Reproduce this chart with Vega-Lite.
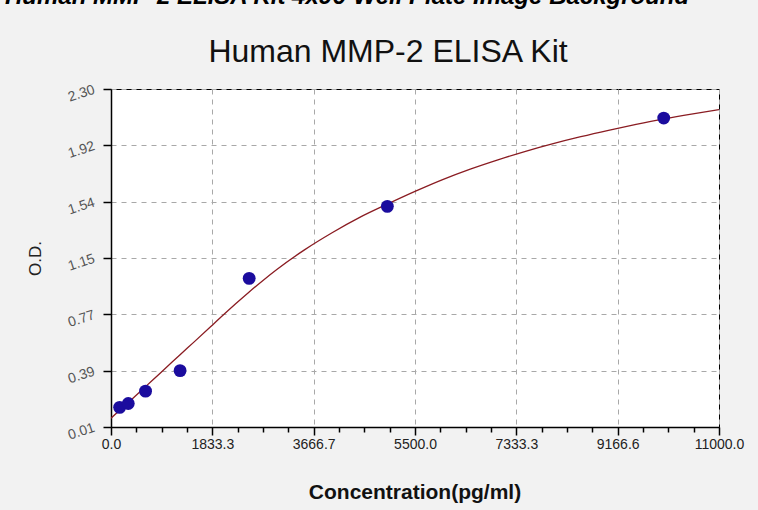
{
  "$schema": "https://vega.github.io/schema/vega-lite/v6.json",
  "autosize": {"type": "none"},
  "width": 608,
  "height": 338,
  "padding": {"left": 111, "top": 89, "right": 39, "bottom": 83},
  "background": "#f2f2f2",
  "config": {
    "font": "Liberation Sans",
    "view": {"fill": "#ffffff", "stroke": "#000000", "strokeWidth": 1}
  },
  "title": {
    "text": "Human MMP-2 ELISA Kit 4x96-Well Plate Image Background",
    "anchor": "start",
    "frame": "group",
    "dx": -106,
    "dy": -7,
    "offset": 0,
    "baseline": "alphabetic",
    "font": "Liberation Sans",
    "fontSize": 24,
    "fontStyle": "italic",
    "fontWeight": "bold",
    "color": "#000000"
  },
  "datasets": {
    "points": [
      {"conc": 156.25, "od": 0.143},
      {"conc": 312.5, "od": 0.169},
      {"conc": 625, "od": 0.253},
      {"conc": 1250, "od": 0.392},
      {"conc": 2500, "od": 1.017},
      {"conc": 5000, "od": 1.505},
      {"conc": 10000, "od": 2.103}
    ],
    "curve": [
      {"conc": 0, "od": 0.07},
      {"conc": 250, "od": 0.155},
      {"conc": 500, "od": 0.24},
      {"conc": 750, "od": 0.327},
      {"conc": 1000, "od": 0.413},
      {"conc": 1250, "od": 0.5},
      {"conc": 1500, "od": 0.585},
      {"conc": 1833, "od": 0.7},
      {"conc": 2000, "od": 0.758},
      {"conc": 2250, "od": 0.843},
      {"conc": 2500, "od": 0.925},
      {"conc": 2750, "od": 1.003},
      {"conc": 3000, "od": 1.077},
      {"conc": 3500, "od": 1.21},
      {"conc": 4000, "od": 1.326},
      {"conc": 4500, "od": 1.43},
      {"conc": 5000, "od": 1.52},
      {"conc": 5500, "od": 1.606},
      {"conc": 6000, "od": 1.686},
      {"conc": 6500, "od": 1.757},
      {"conc": 7000, "od": 1.82},
      {"conc": 7500, "od": 1.878},
      {"conc": 8000, "od": 1.93},
      {"conc": 8500, "od": 1.977},
      {"conc": 9000, "od": 2.02},
      {"conc": 9500, "od": 2.06},
      {"conc": 10000, "od": 2.097},
      {"conc": 10500, "od": 2.13},
      {"conc": 11000, "od": 2.16}
    ]
  },
  "resolve": {"axis": {"x": "independent"}},
  "layer": [
    {
      "data": {"name": "curve"},
      "mark": {"type": "line", "color": "#8a1c22", "strokeWidth": 1.3, "clip": true, "interpolate": "monotone"},
      "encoding": {
        "x": {
          "field": "conc", "type": "quantitative",
          "scale": {"domain": [0, 11000], "nice": false, "zero": false},
          "axis": {
            "orient": "top",
            "domain": false, "ticks": false, "labels": false, "grid": false,
            "title": "Human MMP-2 ELISA Kit",
            "titleFont": "Liberation Sans",
            "titleFontSize": 32,
            "titleFontWeight": "normal",
            "titleColor": "#111111",
            "titleX": 276.5,
            "titleY": -28,
            "titleAlign": "center",
            "titleBaseline": "alphabetic",
            "titleAngle": 0
          }
        },
        "y": {
          "field": "od", "type": "quantitative",
          "scale": {"domain": [0.01, 2.3], "nice": false, "zero": false}
        }
      }
    },
    {
      "data": {"name": "points"},
      "mark": {"type": "circle", "size": 165, "color": "#1b0c9e", "opacity": 1},
      "encoding": {
        "x": {
          "field": "conc", "type": "quantitative",
          "scale": {"domain": [0, 11000], "nice": false, "zero": false},
          "axis": {
            "orient": "bottom",
            "values": [0, 458.333, 916.667, 1375, 1833.333, 2291.667, 2750, 3208.333, 3666.667, 4125, 4583.333, 5041.667, 5500, 5958.333, 6416.667, 6875, 7333.333, 7791.667, 8250, 8708.333, 9166.667, 9625, 10083.333, 10541.667, 11000],
            "labelExpr": "abs(datum.value/1833.3333 - round(datum.value/1833.3333)) < 0.01 ? ['0.0','1833.3','3666.7','5500.0','7333.3','9166.6','11000.0'][round(datum.value/1833.3333)] : ''",
            "domain": true, "domainColor": "#000000", "domainWidth": 1.5,
            "ticks": true, "tickColor": "#000000", "tickWidth": 1.5,
            "tickSize": {"condition": {"test": "abs(datum.value/1833.3333 - round(datum.value/1833.3333)) < 0.01", "value": 8}, "value": 5},
            "grid": true, "gridColor": "#a8a8a8", "gridDash": [5, 5], "gridWidth": 1,
            "gridOpacity": {"condition": {"test": "abs(datum.value/1833.3333 - round(datum.value/1833.3333)) < 0.01", "value": 1}, "value": 0},
            "labelFont": "Liberation Sans",
            "labelFontSize": 14,
            "labelColor": "#222222",
            "labelPadding": 2,
            "labelAngle": 0,
            "labelOverlap": false,
            "labelFlush": false,
            "title": "Concentration(pg/ml)",
            "titleFont": "Liberation Sans",
            "titleFontSize": 21,
            "titleFontWeight": "bold",
            "titleColor": "#111111",
            "titleX": 303.5,
            "titleY": 71,
            "titleAlign": "center",
            "titleBaseline": "alphabetic"
          }
        },
        "y": {
          "field": "od", "type": "quantitative",
          "scale": {"domain": [0.01, 2.3], "nice": false, "zero": false},
          "axis": {
            "orient": "left",
            "values": [0.01, 0.105417, 0.200833, 0.29625, 0.391667, 0.487083, 0.5825, 0.677917, 0.773333, 0.86875, 0.964167, 1.059583, 1.155, 1.250417, 1.345833, 1.44125, 1.536667, 1.632083, 1.7275, 1.822917, 1.918333, 2.01375, 2.109167, 2.204583, 2.3],
            "labelExpr": "abs((datum.value-0.01)/0.3816667 - round((datum.value-0.01)/0.3816667)) < 0.01 ? ['0.01','0.39','0.77','1.15','1.54','1.92','2.30'][round((datum.value-0.01)/0.3816667)] : ''",
            "domain": true, "domainColor": "#000000", "domainWidth": 1.5,
            "ticks": true, "tickColor": "#000000", "tickWidth": 1.5,
            "tickSize": {"condition": {"test": "abs((datum.value-0.01)/0.3816667 - round((datum.value-0.01)/0.3816667)) < 0.01", "value": 8}, "value": 5},
            "grid": true, "gridColor": "#a8a8a8", "gridDash": [5, 5], "gridWidth": 1,
            "gridOpacity": {"condition": {"test": "abs((datum.value-0.01)/0.3816667 - round((datum.value-0.01)/0.3816667)) < 0.01", "value": 1}, "value": 0},
            "labelFont": "Liberation Sans",
            "labelFontSize": 14,
            "labelColor": "#555555",
            "labelAngle": -18,
            "labelAlign": "right",
            "labelBaseline": "middle",
            "labelPadding": 9,
            "labelOverlap": false,
            "labelFlush": false,
            "title": "O.D.",
            "titleFont": "Liberation Sans",
            "titleFontSize": 17,
            "titleFontWeight": "normal",
            "titleColor": "#222222",
            "titleX": -76,
            "titleY": 169,
            "titleAngle": -90,
            "titleAlign": "center",
            "titleBaseline": "middle"
          }
        }
      }
    }
  ]
}
